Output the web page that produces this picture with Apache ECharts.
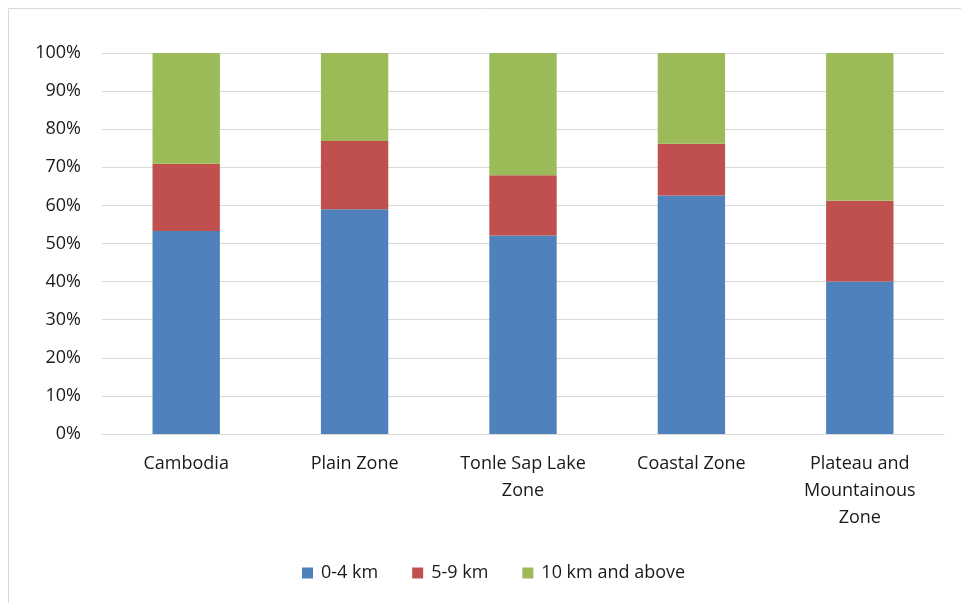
<!DOCTYPE html>
<html>
<head>
<meta charset="utf-8">
<script src="https://cdn.jsdelivr.net/npm/echarts@6/dist/echarts.min.js"></script>
<style>html,body{margin:0;padding:0;background:#fff;}#c{width:961px;height:603px;}</style>
</head>
<body>
<div id="c"></div>
<script>
const categories = ['Cambodia', 'Plain Zone', 'Tonle Sap Lake\nZone', 'Coastal Zone', 'Plateau and\nMountainous\nZone'];
const seriesNames = ['0-4 km', '5-9 km', '10 km and above'];
const near = [53.3, 59.0, 52.1, 62.6, 40.0];
const mid = [17.6, 17.9, 15.8, 13.6, 21.2];
const far = [29.1, 23.1, 32.1, 23.8, 38.8];
const yTicks = [0, 10, 20, 30, 40, 50, 60, 70, 80, 90, 100];
const colors = ['#4F81BD', '#C0504D', '#9BBB59'];

const chart = echarts.init(document.getElementById('c'), null, {renderer: 'canvas'});
const font = '"Open Sans", sans-serif';
const values = [near, mid, far];
chart.setOption({
  animation: false,
  graphic: [{
    type: 'rect', silent: true,
    shape: {x: 8.5, y: 8.5, width: 1000, height: 1000},
    style: {fill: 'none', stroke: '#d9d9d9', lineWidth: 1}
  }],
  grid: {left: 102, right: 17, top: 53, bottom: 169, containLabel: false},
  xAxis: {
    type: 'category',
    data: categories,
    axisLine: {show: true, lineStyle: {color: '#d9d9d9', width: 1}},
    axisTick: {show: false},
    axisLabel: {color: '#1a1a1a', fontFamily: font, fontSize: 18, lineHeight: 27, margin: 16, interval: 0}
  },
  yAxis: {
    type: 'value', min: 0, max: 100, interval: 10,
    axisLine: {show: false}, axisTick: {show: false},
    splitLine: {lineStyle: {color: '#d9d9d9', width: 1}},
    axisLabel: {
      color: '#1a1a1a', fontFamily: font, fontSize: 18, margin: 21,
      formatter: v => yTicks.includes(v) ? v + '%' : ''
    }
  },
  legend: {
    bottom: 16, left: 297,
    icon: 'rect', itemWidth: 11, itemHeight: 11, itemGap: 34,
    textStyle: {color: '#1a1a1a', fontFamily: font, fontSize: 18, padding: [0, 0, 0, 3]},
    data: seriesNames
  },
  series: seriesNames.map((n, i) => ({
    name: n, type: 'bar', stack: 'total', barWidth: '40%',
    itemStyle: {color: colors[i]},
    data: values[i]
  }))
});
</script>
</body>
</html>
